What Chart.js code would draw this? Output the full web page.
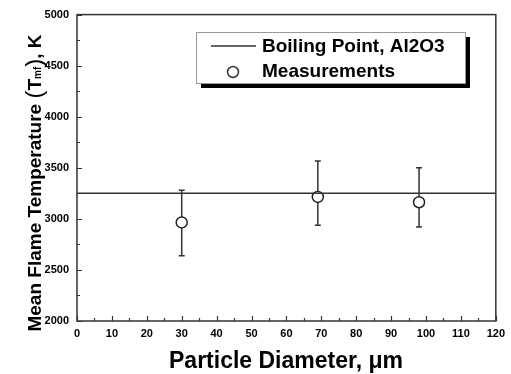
<!DOCTYPE html>
<html>
<head>
<meta charset="utf-8">
<script src="https://cdn.jsdelivr.net/npm/chart.js@4"></script>
<style>
  html, body { margin: 0; padding: 0; background: #fff; }
  canvas { display: block; }
</style>
</head>
<body>
<canvas id="chart" width="511" height="374"></canvas>
<script>
// datos
const boilingLabel = 'Boiling Point, Al2O3';
const measLabel = 'Measurements';
const boilingPoint = 3250;
const lineX = [0, 120];
const diameters = [30, 69, 98];
const meanTemps = [2965, 3215, 3163];
const errUpper = [3280, 3567, 3500];
const errLower = [2638, 2938, 2921];
const xTicks = [0, 10, 20, 30, 40, 50, 60, 70, 80, 90, 100, 110, 120];
const yTicks = [2000, 2500, 3000, 3500, 4000, 4500, 5000];
const xMinor = 5;
const yMinor = 250;

const FONT = '"Liberation Sans", Arial, sans-serif';
const INK = '#333';

const decorPlugin = {
  id: 'decor',
  beforeDatasetsDraw(chart) {
    const { ctx, chartArea: a, scales: { x, y } } = chart;
    ctx.save();
    ctx.strokeStyle = INK;
    ctx.lineWidth = 1.5;
    ctx.strokeRect(a.left, a.top, a.right - a.left, a.bottom - a.top);

    // marcas hacia dentro
    ctx.lineWidth = 1.2;
    ctx.beginPath();
    for (let v = x.min; v <= x.max; v += xMinor) {
      const px = Math.round(x.getPixelForValue(v)) + 0.5;
      const len = v % 10 === 0 ? 5 : 3;
      ctx.moveTo(px, a.bottom);
      ctx.lineTo(px, a.bottom - len);
    }
    for (let v = y.min; v <= y.max; v += yMinor) {
      const py = Math.round(y.getPixelForValue(v)) + 0.5;
      const len = v % 500 === 0 ? 5 : 3;
      ctx.moveTo(a.left, py);
      ctx.lineTo(a.left + len, py);
    }
    ctx.stroke();

    // barras de error
    ctx.lineWidth = 1.5;
    ctx.beginPath();
    diameters.forEach((d, i) => {
      const px = x.getPixelForValue(d);
      const yt = y.getPixelForValue(errUpper[i]);
      const yb = y.getPixelForValue(errLower[i]);
      ctx.moveTo(px, yt); ctx.lineTo(px, yb);
      ctx.moveTo(px - 3, yt); ctx.lineTo(px + 3, yt);
      ctx.moveTo(px - 3, yb); ctx.lineTo(px + 3, yb);
    });
    ctx.stroke();
    ctx.restore();
  },
  afterDraw(chart) {
    const { ctx } = chart;
    ctx.save();
    ctx.fillStyle = '#000';

    // titulo eje x
    ctx.font = 'bold 23px ' + FONT;
    ctx.textAlign = 'center';
    ctx.textBaseline = 'alphabetic';
    ctx.fillText('Particle Diameter, \u03bcm', 286, 368);

    // titulo eje y con subindice
    const parts = [
      ['Mean Flame Temperature ', 'bold 19px ' + FONT, 0],
      ['(', '24px ' + FONT, 1],
      ['T', 'bold 19px ' + FONT, 0],
      ['mf', 'bold 10px ' + FONT, 0],
      [')', '24px ' + FONT, 1],
      [', K', 'bold 19px ' + FONT, 0]
    ];
    let total = 0;
    parts.forEach(p => { ctx.font = p[1]; total += ctx.measureText(p[0]).width; });
    ctx.translate(34, 183);
    ctx.rotate(-Math.PI / 2);
    ctx.textAlign = 'left';
    let cx = -total / 2;
    parts.forEach(p => {
      ctx.font = p[1];
      ctx.fillText(p[0], cx, 7 + p[2]);
      cx += ctx.measureText(p[0]).width;
    });
    ctx.setTransform(1, 0, 0, 1, 0, 0);

    // leyenda con sombra
    const bx = 196, by = 32, bw = 269, bh = 51;
    ctx.fillStyle = '#000';
    ctx.fillRect(bx + 5, by + 5, bw, bh);
    ctx.fillStyle = '#fff';
    ctx.fillRect(bx, by, bw, bh);
    ctx.strokeStyle = '#999';
    ctx.lineWidth = 1;
    ctx.strokeRect(bx + 0.5, by + 0.5, bw, bh);

    ctx.strokeStyle = INK;
    ctx.lineWidth = 1.5;
    ctx.beginPath();
    ctx.moveTo(211, 46); ctx.lineTo(256, 46);
    ctx.stroke();
    ctx.beginPath();
    ctx.arc(233, 72, 5.5, 0, Math.PI * 2);
    ctx.fillStyle = '#fff';
    ctx.fill();
    ctx.stroke();

    ctx.fillStyle = '#000';
    ctx.font = 'bold 19px ' + FONT;
    ctx.textBaseline = 'middle';
    ctx.fillText(chart.data.datasets[0].label, 262, 47);
    ctx.fillText(chart.data.datasets[1].label, 262, 72);
    ctx.restore();
  }
};

new Chart(document.getElementById('chart'), {
  type: 'scatter',
  data: {
    datasets: [
      {
        label: boilingLabel,
        data: lineX.map(v => ({ x: v, y: boilingPoint })),
        showLine: true,
        borderColor: INK,
        borderWidth: 1.5,
        pointRadius: 0
      },
      {
        label: measLabel,
        data: diameters.map((d, i) => ({ x: d, y: meanTemps[i] })),
        pointRadius: 5.5,
        pointBackgroundColor: '#fff',
        pointBorderColor: '#222',
        pointBorderWidth: 1.5
      }
    ]
  },
  options: {
    responsive: false,
    animation: false,
    layout: { padding: { left: 0, right: 15, top: 14, bottom: 0 } },
    plugins: { legend: { display: false }, tooltip: { enabled: false } },
    scales: {
      x: {
        type: 'linear',
        min: 0,
        max: 120,
        afterBuildTicks: s => { s.ticks = xTicks.map(v => ({ value: v })); },
        afterFit: s => { s.height = 53; },
        grid: { display: false, drawTicks: false },
        border: { display: false },
        ticks: { color: '#000', font: { family: FONT, size: 11, weight: 'bold' }, padding: 6, maxRotation: 0, autoSkip: false, callback: v => String(v) }
      },
      y: {
        min: 2000,
        max: 5000,
        afterBuildTicks: s => { s.ticks = yTicks.map(v => ({ value: v })); },
        afterFit: s => { s.width = 77; },
        grid: { display: false, drawTicks: false },
        border: { display: false },
        ticks: { color: '#000', font: { family: FONT, size: 11, weight: 'bold' }, padding: 8, callback: v => String(v) }
      }
    }
  },
  plugins: [decorPlugin]
});
</script>
</body>
</html>
